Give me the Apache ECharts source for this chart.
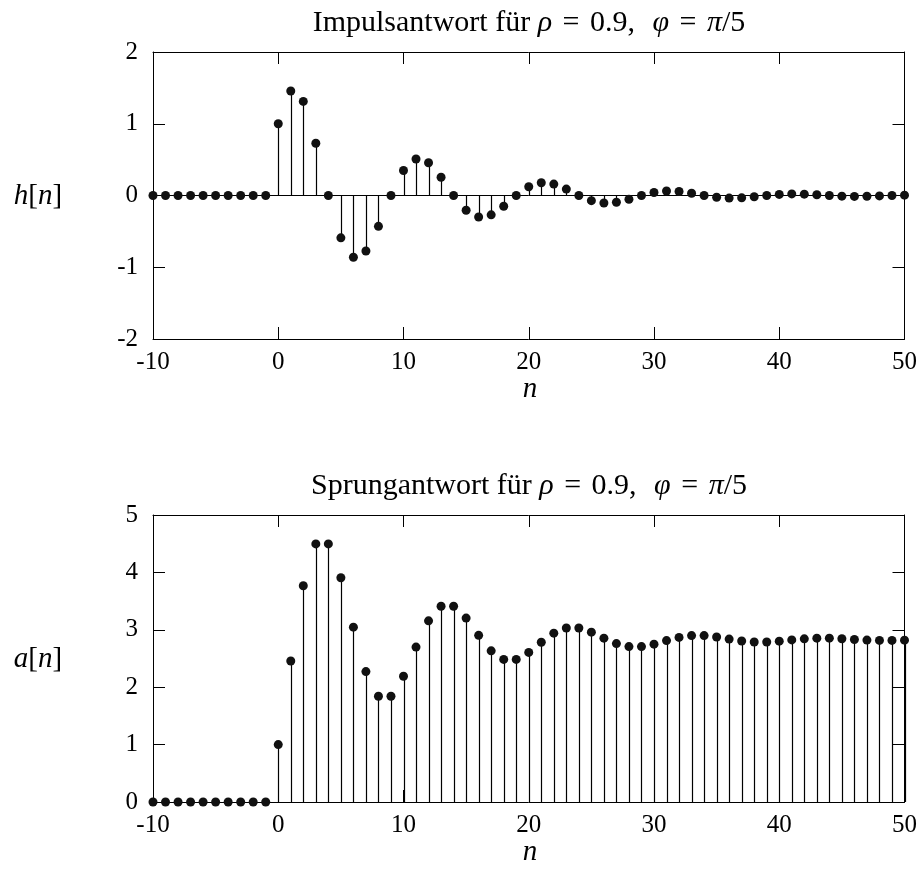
<!DOCTYPE html>
<html>
<head>
<meta charset="utf-8">
<script src="https://cdn.jsdelivr.net/npm/echarts@6/dist/echarts.min.js"></script>
<style>
  html, body { margin: 0; padding: 0; background: #ffffff; }
  #chart { width: 920px; height: 871px; }
</style>
</head>
<body>
<div id="chart"></div>
<script>
// ---- data ----
const nValues = [-10,-9,-8,-7,-6,-5,-4,-3,-2,-1,0,1,2,3,4,5,6,7,8,9,10,11,12,13,14,15,16,17,18,19,20,21,22,23,24,25,26,27,28,29,30,31,32,33,34,35,36,37,38,39,40,41,42,43,44,45,46,47,48,49,50];

const impulseValues = [0,0,0,0,0,0,0,0,0,0,
  1, 1.456, 1.311, 0.729, 0, -0.590, -0.860, -0.774, -0.430, 0,
  0.349, 0.508, 0.457, 0.254, 0, -0.206, -0.300, -0.270, -0.150, 0,
  0.122, 0.177, 0.159, 0.089, 0, -0.072, -0.105, -0.094, -0.052, 0,
  0.042, 0.062, 0.056, 0.031, 0, -0.025, -0.036, -0.033, -0.018, 0,
  0.015, 0.022, 0.019, 0.011, 0, -0.009, -0.013, -0.011, -0.006, 0,
  0.005];

const stepValues = [0,0,0,0,0,0,0,0,0,0,
  1, 2.456, 3.767, 4.496, 4.496, 3.906, 3.046, 2.272, 1.842, 1.842,
  2.191, 2.699, 3.156, 3.410, 3.410, 3.204, 2.904, 2.634, 2.484, 2.484,
  2.606, 2.783, 2.942, 3.031, 3.031, 2.959, 2.854, 2.760, 2.708, 2.708,
  2.750, 2.812, 2.868, 2.899, 2.899, 2.874, 2.838, 2.805, 2.787, 2.787,
  2.802, 2.824, 2.843, 2.854, 2.854, 2.845, 2.832, 2.821, 2.815, 2.815,
  2.820];

const xTicks = { min: -10, max: 50, step: 10 };
const yTicksTop = { min: -2, max: 2, step: 1 };
const yTicksBottom = { min: 0, max: 5, step: 1 };

// ---- styling ----
const SERIF = "'Liberation Serif', 'DejaVu Serif', serif";
const BLACK = '#000000';
const DOT = '#111111';
const tickFont = { fontFamily: SERIF, fontSize: 25, color: BLACK };

const hData = nValues.map((n, i) => [n, impulseValues[i]]);
const aData = nValues.map((n, i) => [n, stepValues[i]]);

function xAxisPair(gridIndex) {
  const common = {
    gridIndex, type: 'value', min: xTicks.min, max: xTicks.max, interval: xTicks.step,
    axisLine: { show: true, onZero: false, lineStyle: { color: BLACK, width: 1 } },
    axisTick: { show: true, inside: true, length: 12, lineStyle: { color: BLACK, width: 1 } },
    splitLine: { show: false }
  };
  return [
    Object.assign({}, common, { position: 'bottom', axisLabel: Object.assign({ margin: 11, formatter: v => String(v) }, tickFont) }),
    Object.assign({}, common, { position: 'top', axisLabel: { show: false } })
  ];
}
function yAxisPair(gridIndex, t) {
  const common = {
    gridIndex, type: 'value', min: t.min, max: t.max, interval: t.step,
    axisLine: { show: true, onZero: false, lineStyle: { color: BLACK, width: 1 } },
    axisTick: { show: true, inside: true, length: 12, lineStyle: { color: BLACK, width: 1 } },
    splitLine: { show: false }
  };
  return [
    Object.assign({}, common, { position: 'left', axisLabel: Object.assign({ margin: 15, formatter: v => String(v) }, tickFont) }),
    Object.assign({}, common, { position: 'right', axisLabel: { show: false } })
  ];
}

function stemSeries(xi, yi, data) {
  return {
    type: 'custom', xAxisIndex: xi, yAxisIndex: yi, data, z: 2, silent: true,
    renderItem: function (params, api) {
      const p0 = api.coord([api.value(0), 0]);
      const p1 = api.coord([api.value(0), api.value(1)]);
      const x = Math.round(p0[0]) + 0.5;
      return { type: 'line', shape: { x1: x, y1: p0[1], x2: x, y2: p1[1] },
               style: { stroke: BLACK, lineWidth: 1.2 } };
    }
  };
}
function dotSeries(xi, yi, data) {
  return { type: 'scatter', xAxisIndex: xi, yAxisIndex: yi, data, symbol: 'circle', symbolSize: 9,
           itemStyle: { color: DOT, opacity: 1 }, z: 4, silent: true };
}

const mathRich = {
  t: { fontFamily: SERIF, fontSize: 30, color: BLACK },
  e: { fontFamily: SERIF, fontSize: 30, color: BLACK, padding: [0, 3] },
  g: { fontFamily: SERIF, fontSize: 30, color: BLACK, padding: [0, 5] },
  m: { fontFamily: SERIF, fontSize: 30, fontStyle: 'italic', color: BLACK }
};
const labelRich = {
  t: { fontFamily: SERIF, fontSize: 29, color: BLACK },
  m: { fontFamily: SERIF, fontSize: 29, fontStyle: 'italic', color: BLACK }
};
function titleText(word) {
  return '{t|' + word + ' für }{m|ρ}{e| = }{t|0.9,}{g| }{m|φ}{e| = }{m|π}{t|/5}';
}

const option = {
  animation: false,
  backgroundColor: '#ffffff',
  grid: [
    { left: 153, right: 13, top: 52, height: 287 },
    { left: 153, right: 13, top: 515, height: 287 }
  ],
  xAxis: [].concat(xAxisPair(0), xAxisPair(1)),
  yAxis: [].concat(yAxisPair(0, yTicksTop), yAxisPair(1, yTicksBottom)),
  series: [
    { type: 'line', xAxisIndex: 0, yAxisIndex: 0, data: [[xTicks.min, 0], [xTicks.max, 0]],
      symbol: 'none', lineStyle: { color: BLACK, width: 1 }, z: 1, silent: true },
    stemSeries(0, 0, hData),
    dotSeries(0, 0, hData),
    stemSeries(2, 2, aData),
    dotSeries(2, 2, aData)
  ],
  graphic: [
    { type: 'text', x: 529, y: 23, style: { text: titleText('Impulsantwort'), rich: mathRich, align: 'center', verticalAlign: 'middle' } },
    { type: 'text', x: 529, y: 486, style: { text: titleText('Sprungantwort'), rich: mathRich, align: 'center', verticalAlign: 'middle' } },
    { type: 'text', x: 530, y: 389, style: { text: 'n', fontFamily: SERIF, fontSize: 29, fontStyle: 'italic', fill: BLACK, align: 'center', verticalAlign: 'middle' } },
    { type: 'text', x: 530, y: 852, style: { text: 'n', fontFamily: SERIF, fontSize: 29, fontStyle: 'italic', fill: BLACK, align: 'center', verticalAlign: 'middle' } },
    { type: 'text', x: 38, y: 196, style: { text: '{m|h}{t|[}{m|n}{t|]}', rich: labelRich, align: 'center', verticalAlign: 'middle' } },
    { type: 'text', x: 38, y: 659, style: { text: '{m|a}{t|[}{m|n}{t|]}', rich: labelRich, align: 'center', verticalAlign: 'middle' } }
  ]
};

const chart = echarts.init(document.getElementById('chart'), null, { renderer: 'canvas' });
chart.setOption(option);
</script>
</body>
</html>
